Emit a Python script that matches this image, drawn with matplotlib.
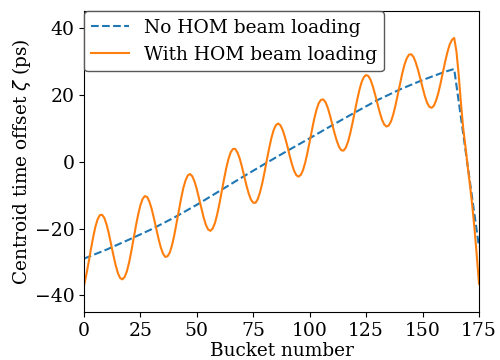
import matplotlib
matplotlib.use("Agg")
import matplotlib.pyplot as plt

# no HOM beam loading (dashed)
bucket_no_hom = [0, 10, 20, 30, 40, 50, 60, 70, 80, 90, 100, 110, 120,
                 130, 140, 150, 160, 164, 175]
offset_no_hom = [-29.0, -26.3, -23.3, -20.2, -16.7, -12.9, -8.8, -4.7, -0.7,
                 3.2, 7.0, 10.9, 14.7, 18.4, 21.6, 24.4, 26.9, 27.7, -25.5]

# with HOM beam loading (solid), one value per bucket 0..175
bucket_hom = list(range(0, 176))
offset_hom = [
    -37.1, -33.9, -30.3, -26.4, -22.8, -19.6, -17.3, -16.0, -15.9, -16.8,   # 0
    -18.8, -21.5, -24.7, -27.9, -30.9, -33.3, -34.8, -35.2, -34.5, -32.8,   # 10
    -30.1, -26.7, -22.9, -19.2, -15.8, -13.0, -11.1, -10.3, -10.6, -12.0,   # 20
    -14.2, -17.0, -20.0, -23.0, -25.6, -27.5, -28.5, -28.3, -27.2, -25.0,   # 30
    -22.0, -18.4, -14.7, -11.1, -7.9, -5.6, -4.1, -3.7, -4.4, -6.0,         # 40
    -8.3, -11.1, -14.0, -16.7, -18.9, -20.3, -20.7, -20.0, -18.4, -15.8,    # 50
    -12.6, -9.0, -5.4, -2.0, 0.8, 2.8, 3.8, 3.8, 2.7, 0.9,                  # 60
    -1.6, -4.4, -7.2, -9.6, -11.4, -12.3, -12.3, -11.2, -9.1, -6.4,         # 70
    -3.1, 0.5, 3.9, 7.0, 9.4, 10.9, 11.4, 10.9, 9.5, 7.4,                   # 80
    4.9, 2.1, -0.5, -2.6, -4.0, -4.5, -4.0, -2.6, -0.3, 2.7,                # 90
    6.0, 9.5, 12.8, 15.5, 17.5, 18.5, 18.6, 17.8, 16.1, 13.8,               # 100
    11.2, 8.5, 6.2, 4.4, 3.4, 3.3, 4.2, 6.0, 8.6, 11.7,                     # 110
    15.1, 18.4, 21.4, 23.8, 25.3, 25.9, 25.6, 24.4, 22.4, 20.0,             # 120
    17.4, 14.8, 12.6, 11.1, 10.5, 10.8, 12.0, 14.1, 16.8, 20.0,             # 130
    23.3, 26.4, 29.0, 30.9, 32.0, 32.1, 31.3, 29.6, 27.4, 24.8,             # 140
    22.1, 19.6, 17.6, 16.4, 16.1, 16.7, 18.3, 20.6, 23.5, 26.7,             # 150
    29.9, 32.7, 35.0, 36.4, 37.0, 33.0, 26.0, 17.5, 10.0, 4.5,              # 160
    -1.5, -7.0, -13.0, -20.0, -28.0, -36.5,                                 # 170
]

xticks = [0, 25, 50, 75, 100, 125, 150, 175]
yticks = [-40, -20, 0, 20, 40]

plt.rcParams['font.family'] = 'DejaVu Serif'
plt.rcParams['font.size'] = 13.3
plt.rcParams['xtick.labelsize'] = 13.5
plt.rcParams['ytick.labelsize'] = 13.5

fig = plt.figure(figsize=(5, 3.6), dpi=100)
ax = fig.add_axes([0.168, 0.133, 0.79, 0.836])

ax.plot(bucket_no_hom, offset_no_hom, '--', color='#1f77b4', lw=1.5,
        label='No HOM beam loading')
ax.plot(bucket_hom, offset_hom, '-', color='#ff7f0e', lw=1.5,
        label='With HOM beam loading')

ax.set_xlim(0, 175)
ax.set_ylim(-45, 45)
ax.set_xticks(xticks)
ax.set_yticks(yticks)
ax.set_xlabel('Bucket number', labelpad=1.5)
ax.set_ylabel('Centroid time offset $\\zeta$ (ps)', labelpad=1)

leg = ax.legend(loc='upper left', borderaxespad=0.0, fancybox=True,
                framealpha=1.0, fontsize=13.4)
leg.get_frame().set_edgecolor('0.35')

fig.savefig('out.png', dpi=100)
